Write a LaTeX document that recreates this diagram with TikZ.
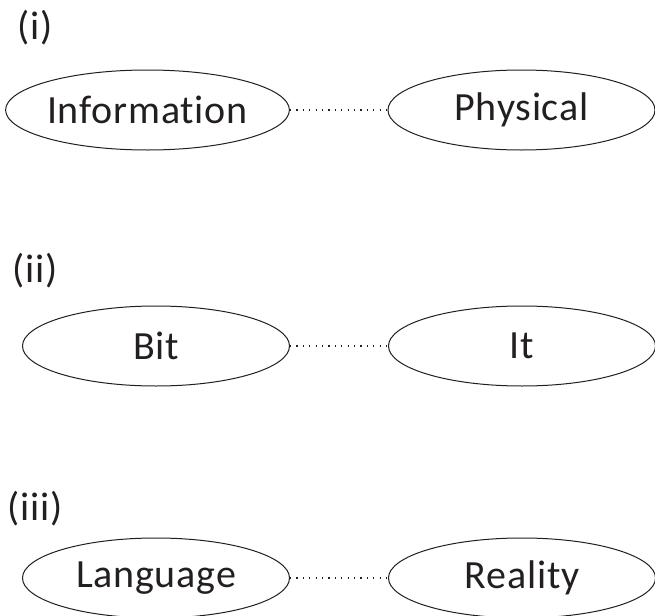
\documentclass[tikz,border=0pt]{standalone}
\usepackage{fontspec}
\setmainfont{Carlito}[Ligatures={NoCommon}, LetterSpace=2]
\usetikzlibrary{shapes.geometric}
\definecolor{inkgray}{RGB}{35,31,32}

\begin{document}
\begin{tikzpicture}[x=0.5pt, y=-0.5pt, font=\fontsize{20}{24}\selectfont, text=inkgray,
		blob/.style={draw=inkgray, line width=0.5pt, ellipse, inner sep=0pt, minimum width=133.5pt, minimum height=40pt},
		link/.style={draw=inkgray, line width=0.6pt, dash pattern=on 0.6pt off 2.6pt}]
			%%%%% START %%%%%
			\useasboundingbox (0, 0) rectangle (655, 616);
			
			\node (tagi) at (35, 28) {(i)};
			\node[blob] (info) at (147.5, 110) {Information};
			\node[blob] (phys) at (521.5, 110) {Physical};
			\draw[link] (info) -- (phys);
			
			\node (tagii) at (35, 271) {(ii)};
			\node[blob] (bit) at (156, 346) {Bit};
			\node[blob] (it) at (522, 346) {It};
			\draw[link] (bit) -- (it);
			
			\node (tagiii) at (35, 509) {(iii)};
			\node[blob] (lang) at (156, 578) {Language};
			\node[blob] (real) at (522, 578) {Reality};
			\draw[link] (lang) -- (real);
			%%%%% END %%%%%
		\end{tikzpicture}
\end{document}
